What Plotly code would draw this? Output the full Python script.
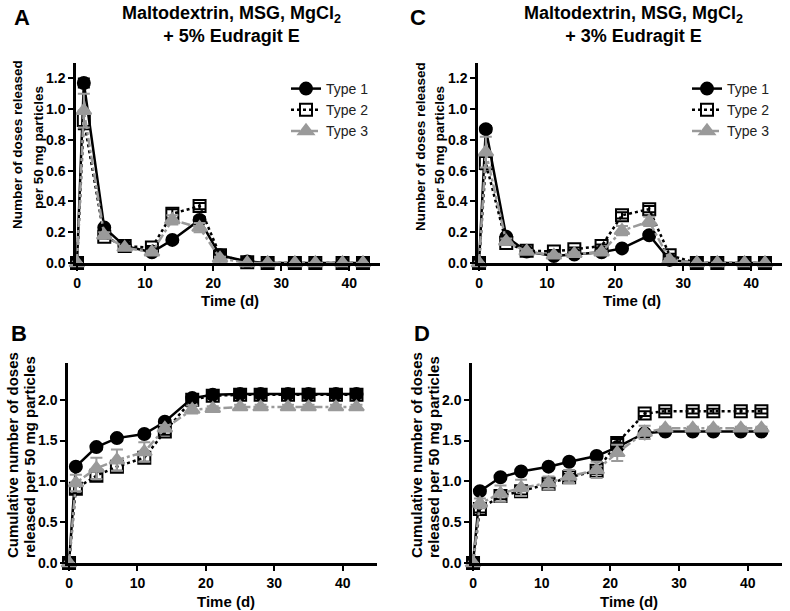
import plotly.graph_objects as go

W, H = 790, 611

days = [0, 1, 4, 7, 11, 14, 18, 21, 25, 28, 32, 35, 39, 42]
series_names = ["Type 1", "Type 2", "Type 3"]

# Panel A: per-sample release, 5% Eudragit E
a_type1 = [0, 1.17, 0.23, 0.11, 0.07, 0.15, 0.28, 0.05, 0.01, 0, 0, 0, 0, 0]
a_type2 = [0, 0.93, 0.17, 0.11, 0.10, 0.32, 0.37, 0.05, 0.005, 0, 0, 0, 0, 0]
a_type3 = [0, 0.99, 0.18, 0.10, 0.07, 0.28, 0.23, 0.03, 0, 0, 0, 0, 0, 0]
a_err1 = [0, 0.03, 0.01, 0.01, 0.01, 0.01, 0.02, 0.01, 0, 0, 0, 0, 0, 0]
a_err2 = [0, 0.06, 0.01, 0.01, 0.01, 0.03, 0.02, 0.01, 0, 0, 0, 0, 0, 0]
a_err3 = [0, 0.11, 0.02, 0.01, 0.01, 0.03, 0.03, 0.01, 0, 0, 0, 0, 0, 0]

# Panel C: per-sample release, 3% Eudragit E
c_type1 = [0, 0.87, 0.17, 0.075, 0.045, 0.055, 0.07, 0.095, 0.18, 0.02, 0, 0, 0, 0]
c_type2 = [0, 0.65, 0.13, 0.08, 0.075, 0.09, 0.11, 0.31, 0.35, 0.05, 0, 0, 0, 0]
c_type3 = [0, 0.72, 0.14, 0.075, 0.05, 0.06, 0.07, 0.21, 0.27, 0.02, 0, 0, 0, 0]
c_err1 = [0, 0.02, 0.01, 0.01, 0.01, 0.01, 0.01, 0.01, 0.02, 0.01, 0, 0, 0, 0]
c_err2 = [0, 0.04, 0.01, 0.01, 0.01, 0.01, 0.01, 0.02, 0.02, 0.01, 0, 0, 0, 0]
c_err3 = [0, 0.10, 0.02, 0.01, 0.01, 0.01, 0.01, 0.03, 0.03, 0.01, 0, 0, 0, 0]

# Panel B: cumulative, 5% Eudragit E
b_type1 = [0, 1.18, 1.42, 1.53, 1.58, 1.73, 2.02, 2.06, 2.07, 2.07, 2.07, 2.07, 2.07, 2.07]
b_type2 = [0, 0.91, 1.07, 1.18, 1.29, 1.61, 2.00, 2.05, 2.06, 2.06, 2.06, 2.06, 2.06, 2.06]
b_type3 = [0, 0.98, 1.16, 1.26, 1.36, 1.65, 1.88, 1.89, 1.91, 1.91, 1.91, 1.91, 1.91, 1.91]
b_err1 = [0, 0.03, 0.03, 0.03, 0.03, 0.03, 0.03, 0.03, 0.03, 0.03, 0.03, 0.03, 0.03, 0.03]
b_err2 = [0, 0.06, 0.05, 0.05, 0.05, 0.04, 0.03, 0.03, 0.03, 0.03, 0.03, 0.03, 0.03, 0.03]
b_err3 = [0, 0.10, 0.13, 0.13, 0.12, 0.04, 0.05, 0.03, 0.03, 0.03, 0.03, 0.03, 0.03, 0.03]

# Panel D: cumulative, 3% Eudragit E
d_type1 = [0, 0.88, 1.05, 1.12, 1.18, 1.24, 1.31, 1.42, 1.59, 1.61, 1.61, 1.61, 1.61, 1.61]
d_type2 = [0, 0.66, 0.82, 0.88, 0.97, 1.05, 1.13, 1.47, 1.83, 1.86, 1.86, 1.86, 1.86, 1.86]
d_type3 = [0, 0.73, 0.85, 0.92, 0.98, 1.06, 1.14, 1.35, 1.60, 1.65, 1.65, 1.65, 1.65, 1.65]
d_err1 = [0, 0.02, 0.02, 0.02, 0.02, 0.02, 0.02, 0.02, 0.02, 0.02, 0.02, 0.02, 0.02, 0.02]
d_err2 = [0, 0.04, 0.04, 0.04, 0.04, 0.04, 0.04, 0.05, 0.03, 0.03, 0.03, 0.03, 0.03, 0.03]
d_err3 = [0, 0.06, 0.10, 0.10, 0.08, 0.08, 0.10, 0.10, 0.08, 0.02, 0.02, 0.02, 0.02, 0.02]

y_ticks_rate = [0, 0.2, 0.4, 0.6, 0.8, 1.0, 1.2]
y_ticks_cum = [0, 0.5, 1.0, 1.5, 2.0]
x_ticks = [0, 10, 20, 30, 40]

title_line1 = "Maltodextrin, MSG, MgCl<sub>2</sub>"
title_A2 = "+ 5% Eudragit E"
title_C2 = "+ 3% Eudragit E"
ytitle_rate = ["Number of doses released", "per 50 mg particles"]
ytitle_cum = ["Cumulative number of doses", "released per 50 mg particles"]
xtitle = "Time (d)"

FONT = "Arial, Liberation Sans, sans-serif"
GRAY = "#9a9a9a"

styles = [
    dict(color="black", dash="solid", symbol="circle", ecolor="black"),
    dict(color="black", dash="dot", symbol="square-open", ecolor="black"),
    dict(color=GRAY, dash="dashdot", symbol="triangle-up", ecolor=GRAY),
]

fig = go.Figure()


def px_x(p):
    return p / W


def px_y(p):
    return 1 - p / H


panels = {
    "A": dict(x="x", y="y", xd=(76, 380), yd=(263, 63), xr=[-0.15, 44.5], yr=[0, 1.3],
              data=[a_type1, a_type2, a_type3], err=[a_err1, a_err2, a_err3], legend="legend"),
    "C": dict(x="x2", y="y2", xd=(478, 782), yd=(263, 63), xr=[-0.15, 44.5], yr=[0, 1.3],
              data=[c_type1, c_type2, c_type3], err=[c_err1, c_err2, c_err3], legend="legend2"),
    "B": dict(x="x3", y="y3", xd=(68, 377), yd=(563, 363), xr=[-0.15, 45], yr=[0, 2.45],
              data=[b_type1, b_type2, b_type3], err=[b_err1, b_err2, b_err3], legend=None),
    "D": dict(x="x4", y="y4", xd=(472, 782), yd=(563, 363), xr=[-0.15, 45], yr=[0, 2.45],
              data=[d_type1, d_type2, d_type3], err=[d_err1, d_err2, d_err3], legend=None),
}

for key, p in panels.items():
    for i, (vals, errs) in enumerate(zip(p["data"], p["err"])):
        s = styles[i]
        fig.add_trace(go.Scatter(
            x=days, y=vals, xaxis=p["x"], yaxis=p["y"],
            mode="lines+markers", name=series_names[i],
            line=dict(color=s["color"], dash=s["dash"], width=2.5),
            marker=dict(symbol=s["symbol"], size=12 if i < 2 else 13, color=s["color"],
                        line=dict(color=s["color"], width=2)),
            error_y=dict(type="data", array=errs, visible=True, color=s["ecolor"],
                         thickness=2, width=6),
            cliponaxis=False,
            showlegend=p["legend"] is not None,
            legend=p["legend"] if p["legend"] else "legend",
        ))

axis_common = dict(
    showline=True, linecolor="black", linewidth=2.5, ticks="outside", ticklen=5,
    tickwidth=2, tickcolor="black", showgrid=False, zeroline=False, automargin=False,
    tickfont=dict(family=FONT, size=14, color="black", weight="bold"),
)

layout_axes = {}
names = {"x": "xaxis", "x2": "xaxis2", "x3": "xaxis3", "x4": "xaxis4",
         "y": "yaxis", "y2": "yaxis2", "y3": "yaxis3", "y4": "yaxis4"}
for key, p in panels.items():
    yt = y_ticks_rate if key in "AC" else y_ticks_cum
    xa = dict(axis_common)
    xa.update(domain=[px_x(p["xd"][0]), px_x(p["xd"][1])], range=p["xr"],
              tickvals=x_ticks, anchor=p["y"])
    ya = dict(axis_common)
    ya.update(domain=[px_y(p["yd"][0]), px_y(p["yd"][1])], range=p["yr"],
              tickvals=yt, ticktext=[f"{v:.1f}" for v in yt], anchor=p["x"])
    layout_axes[names[p["x"]]] = xa
    layout_axes[names[p["y"]]] = ya

annotations = []


def ann(text, x, y, size, rot=0, bold=True):
    annotations.append(dict(
        text=text, x=px_x(x), y=px_y(y), xref="paper", yref="paper",
        showarrow=False, textangle=rot, xanchor="center", yanchor="middle",
        font=dict(family=FONT, size=size, color="black", weight="bold" if bold else "normal"),
    ))


# panel letters
ann("A", 22, 18, 22)
ann("C", 418, 18, 22)
ann("B", 19, 333, 22)
ann("D", 422, 333, 22)
# titles
ann(title_line1 + "<br>" + title_A2, 231, 25, 18)
ann(title_line1 + "<br>" + title_C2, 633, 25, 18)
# y axis titles (two lines each)
ann(ytitle_rate[0], 18, 145, 13.5, rot=-90)
ann(ytitle_rate[1], 39, 148, 13.5, rot=-90)
ann(ytitle_rate[0], 420, 146, 13.5, rot=-90)
ann(ytitle_rate[1], 440, 148, 13.5, rot=-90)
ann(ytitle_cum[0], 12, 455, 15, rot=-90)
ann(ytitle_cum[1], 29, 457, 15, rot=-90)
ann(ytitle_cum[0], 416, 455, 15, rot=-90)
ann(ytitle_cum[1], 433, 457, 15, rot=-90)
# x axis titles
ann(xtitle, 230, 300, 15)
ann(xtitle, 632, 300, 15)
ann(xtitle, 226, 601, 15)
ann(xtitle, 629, 601, 15)

legend_style = dict(
    bgcolor="rgba(0,0,0,0)", borderwidth=0, xanchor="left", yanchor="top",
    font=dict(family=FONT, size=14, color="#222"), itemwidth=30, tracegroupgap=0,
)

fig.update_layout(
    template="none",
    width=W, height=H, margin=dict(l=0, r=0, t=0, b=0),
    plot_bgcolor="white", paper_bgcolor="white",
    annotations=annotations,
    legend=dict(legend_style, x=px_x(286), y=px_y(73)),
    legend2=dict(legend_style, x=px_x(687), y=px_y(73)),
    **layout_axes,
)

fig.write_html(
    "out.html",
    config={"displayModeBar": False},
    post_script="document.body.style.margin='0';document.body.style.overflow='hidden';",
)
